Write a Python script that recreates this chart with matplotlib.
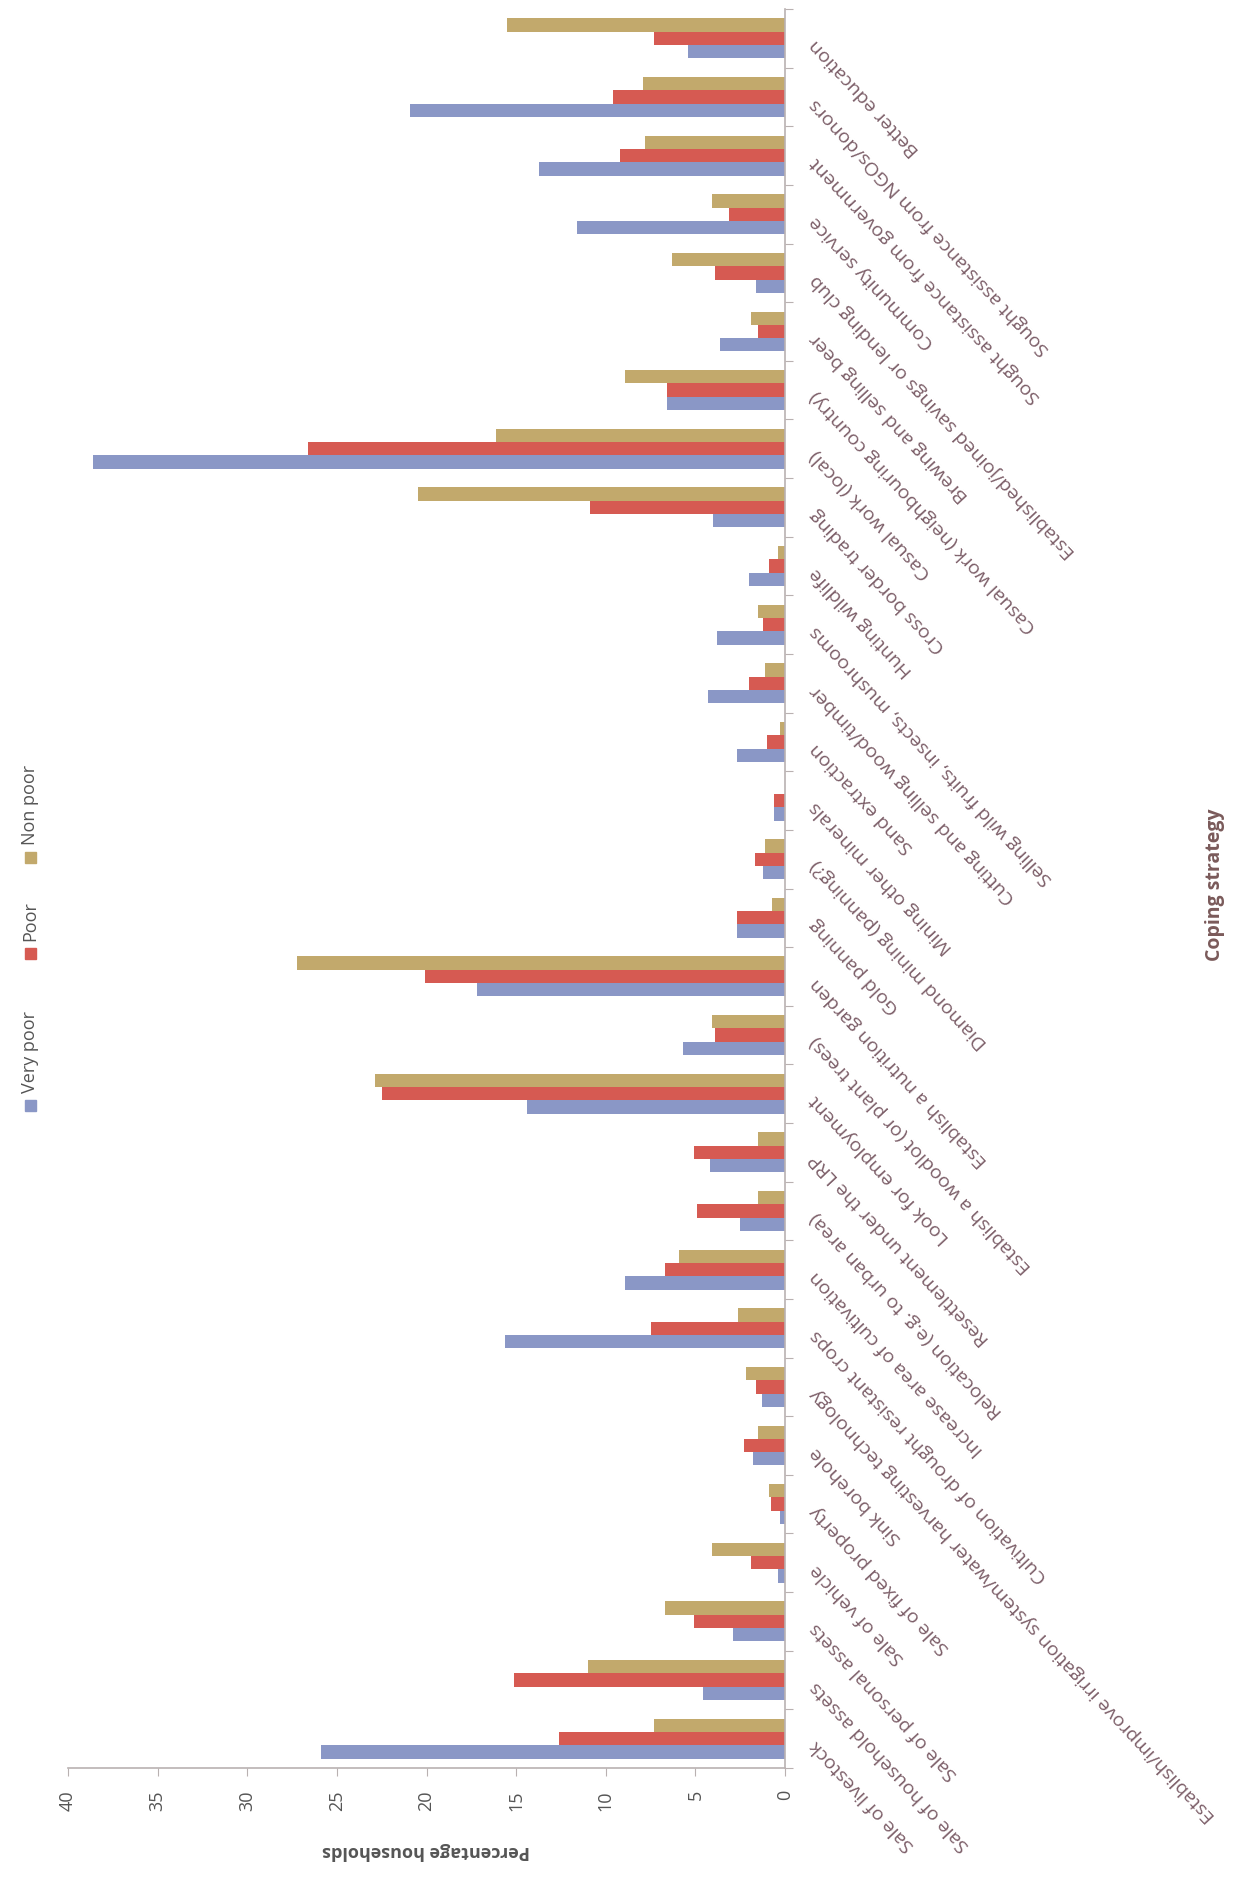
import numpy as np
import matplotlib
matplotlib.use("Agg")
import matplotlib.pyplot as plt
from matplotlib.patches import Rectangle

plt.rcParams['font.family'] = ['Open Sans', 'DejaVu Sans']

categories = [
    "Sale of livestock",
    "Sale of household assets",
    "Sale of personal assets",
    "Sale of vehicle",
    "Sale of fixed property",
    "Sink borehole",
    "Establish/improve irrigation system/water harvesting technology",
    "Cultivation of drought resistant crops",
    "Increase area of cultivation",
    "Relocation (e.g. to urban area)",
    "Resettlement under the LRP",
    "Look for employment",
    "Establish a woodlot (or plant trees)",
    "Establish a nutrition garden",
    "Gold panning",
    "Diamond mining (panning?)",
    "Mining other minerals",
    "Sand extraction",
    "Cutting and selling wood/timber",
    "Selling wild fruits, insects, mushrooms",
    "Hunting wildlife",
    "Cross border trading",
    "Casual work (local)",
    "Casual work (neighbouring country)",
    "Brewing and selling beer",
    "Established/joined savings or lending club",
    "Community service",
    "Sought assistance from government",
    "Sought assistance from NGOs/donors",
    "Better education",
]

very_poor = [25.9, 4.6, 2.9, 0.4, 0.3, 1.8, 1.3, 15.6, 8.9, 2.5,
             4.2, 14.4, 5.7, 17.2, 2.7, 1.2, 0.6, 2.7, 4.3, 3.8,
             2.0, 4.0, 38.6, 6.6, 3.6, 1.6, 11.6, 13.7, 20.9, 5.4]
poor = [12.6, 15.1, 5.1, 1.9, 0.8, 2.3, 1.6, 7.5, 6.7, 4.9,
        5.1, 22.5, 3.9, 20.1, 2.7, 1.7, 0.6, 1.0, 2.0, 1.2,
        0.9, 10.9, 26.6, 6.6, 1.5, 3.9, 3.1, 9.2, 9.6, 7.3]
non_poor = [7.3, 11.0, 6.7, 4.1, 0.9, 1.5, 2.2, 2.6, 5.9, 1.5,
            1.5, 22.9, 4.1, 27.2, 0.7, 1.1, 0.0, 0.3, 1.1, 1.5,
            0.4, 20.5, 16.1, 8.9, 1.9, 6.3, 4.1, 7.8, 7.9, 15.5]

series_names = ["Very poor", "Poor", "Non poor"]
value_ticks = [0, 5, 10, 15, 20, 25, 30, 35, 40]

c_vp = "#8a97c6"
c_p = "#d65a52"
c_np = "#c2a96c"
label_col = "#7c5e68"
axis_col = "#b9b1b1"

W, H = 1253, 1879
fig = plt.figure(figsize=(W / 100, H / 100), dpi=100)
fig.patch.set_facecolor("white")

x0, x1 = 68, 785
y_top, y_bot = 9, 1768
ax = fig.add_axes([x0 / W, 1 - y_bot / H, (x1 - x0) / W, (y_bot - y_top) / H])

y = np.arange(len(categories))
bw = 0.227
ax.barh(y - bw, very_poor, height=bw, color=c_vp, label=series_names[0])
ax.barh(y, poor, height=bw, color=c_p, label=series_names[1])
ax.barh(y + bw, non_poor, height=bw, color=c_np, label=series_names[2])

ax.set_xlim(40, 0)
ax.set_ylim(-0.5, len(categories) - 0.5)

for s in ["left", "top"]:
    ax.spines[s].set_visible(False)
for s in ["bottom", "right"]:
    ax.spines[s].set_color(axis_col)
    ax.spines[s].set_linewidth(1.2)

ax.set_xticks(value_ticks)
ax.set_xticklabels([str(v) for v in value_ticks], rotation=90, fontsize=13,
                   color="#555555", va="top", ha="center")
ax.tick_params(axis="x", direction="out", length=6, color=axis_col, pad=10)

ax.yaxis.tick_right()
ax.set_yticks(np.arange(-0.5, len(categories), 1.0))
ax.set_yticklabels([])
ax.tick_params(axis="y", direction="out", length=6, color=axis_col)

for i, c in enumerate(categories):
    ax.annotate(c, xy=(1.0, i), xycoords=("axes fraction", "data"),
                xytext=(28, -4), textcoords="offset pixels",
                rotation=133, rotation_mode="anchor", ha="right", va="center",
                fontsize=14, color=label_col)

ax.annotate("Percentage households", xy=(20, 0), xycoords=("data", "axes fraction"),
            xytext=(0, -83), textcoords="offset pixels", rotation=180,
            ha="center", va="center", fontsize=13, fontweight="bold", color="#555555")

fig.text(1215 / W, 1 - 885 / H, "Coping strategy", rotation=90, ha="center",
         va="center", fontsize=14, fontweight="bold", color="#7a5a5a")

# legend (rotated, on the left)
leg_x = 30
items = [(1105, c_vp, "Very poor"), (953, c_p, "Poor"), (857, c_np, "Non poor")]
sq = 11
for yc, col, name in items:
    fig.patches.append(Rectangle(((leg_x - sq / 2) / W, 1 - (yc + sq / 2) / H), sq / W, sq / H,
                                 transform=fig.transFigure, color=col))
    fig.text(leg_x / W, 1 - (yc - 12) / H, name, rotation=90, ha="center", va="bottom",
             fontsize=13, color="#555555")

fig.savefig("out.png", dpi=100, facecolor="white")
